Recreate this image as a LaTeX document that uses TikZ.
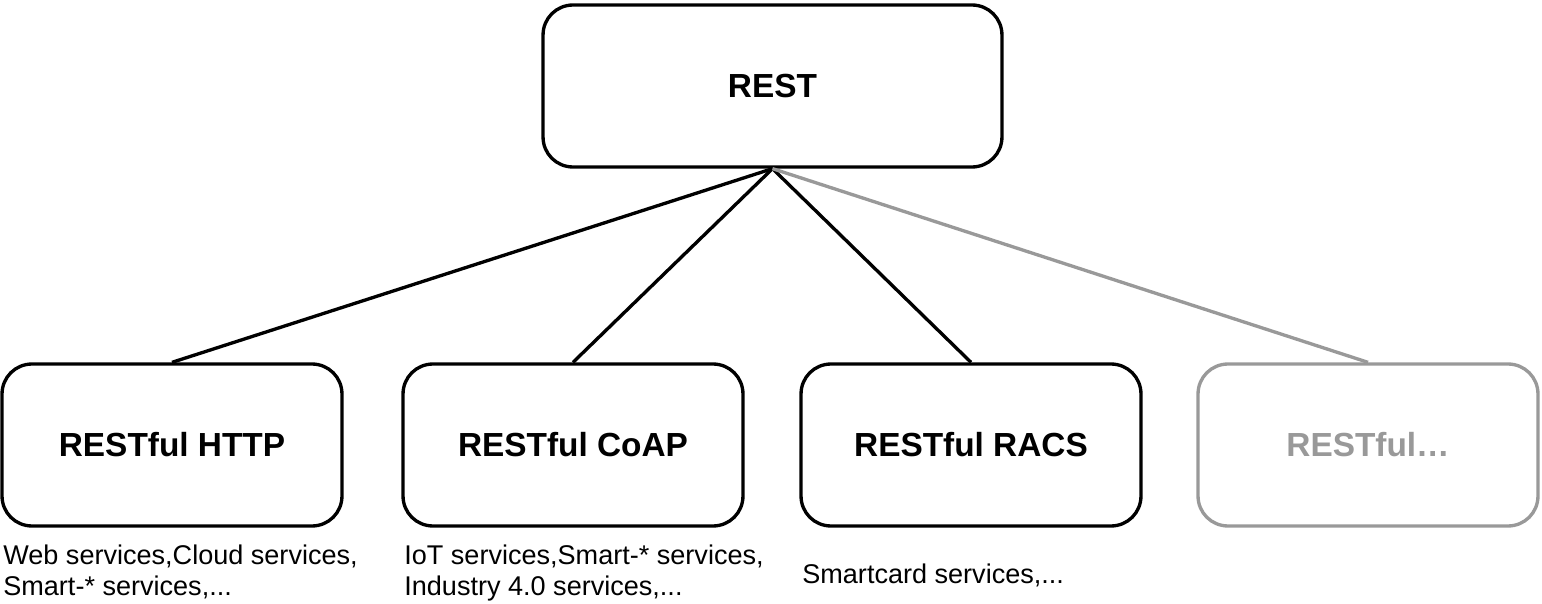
\documentclass[tikz,border=0pt]{standalone}
\usepackage{fontspec}
\setmainfont{Liberation Sans}
\definecolor{FadeGray}{HTML}{999999}
\usetikzlibrary{positioning}

\tikzset{
  box/.style={draw, line width=1.9pt, rounded corners=17pt, fill=white,
              minimum width=6.8cm, minimum height=3.24cm, align=center,
              font=\fontsize{19}{23}\selectfont\bfseries},
  note/.style={anchor=north west, align=left, inner sep=0pt,
               font=\fontsize{15.4}{17.2}\selectfont},
  link/.style={line width=1.9pt}
}

\begin{document}
\begin{tikzpicture}[x=0.02cm, y=-0.02cm]
  \useasboundingbox (0,0) rectangle (1542,604);

  % root
  \node[box, minimum width=9.18cm] (rest) at (772.5,86) {REST};

  % children
  \node[box] (http) at (172,445) {RESTful HTTP};
  \node[box] (coap) at (573,445) {RESTful CoAP};
  \node[box] (racs) at (971,445) {RESTful RACS};
  \node[box, draw=FadeGray, text=FadeGray] (more) at (1368,445) {RESTful\dots};

  \draw[link] (rest.south) -- (http.north);
  \draw[link] (rest.south) -- (coap.north);
  \draw[link] (rest.south) -- (racs.north);
  \draw[link, FadeGray] (rest.south) -- (more.north);

  % examples below each box
  \node[note] (httpnote) at (3,545) {Web services,Cloud services,\\Smart-* services,...};
  \node[note] (coapnote) at (404,545) {IoT services,Smart-* services,\\Industry 4.0 services,...};
  \node[note] (racsnote) at (802,564) {Smartcard services,...};
\end{tikzpicture}
\end{document}
